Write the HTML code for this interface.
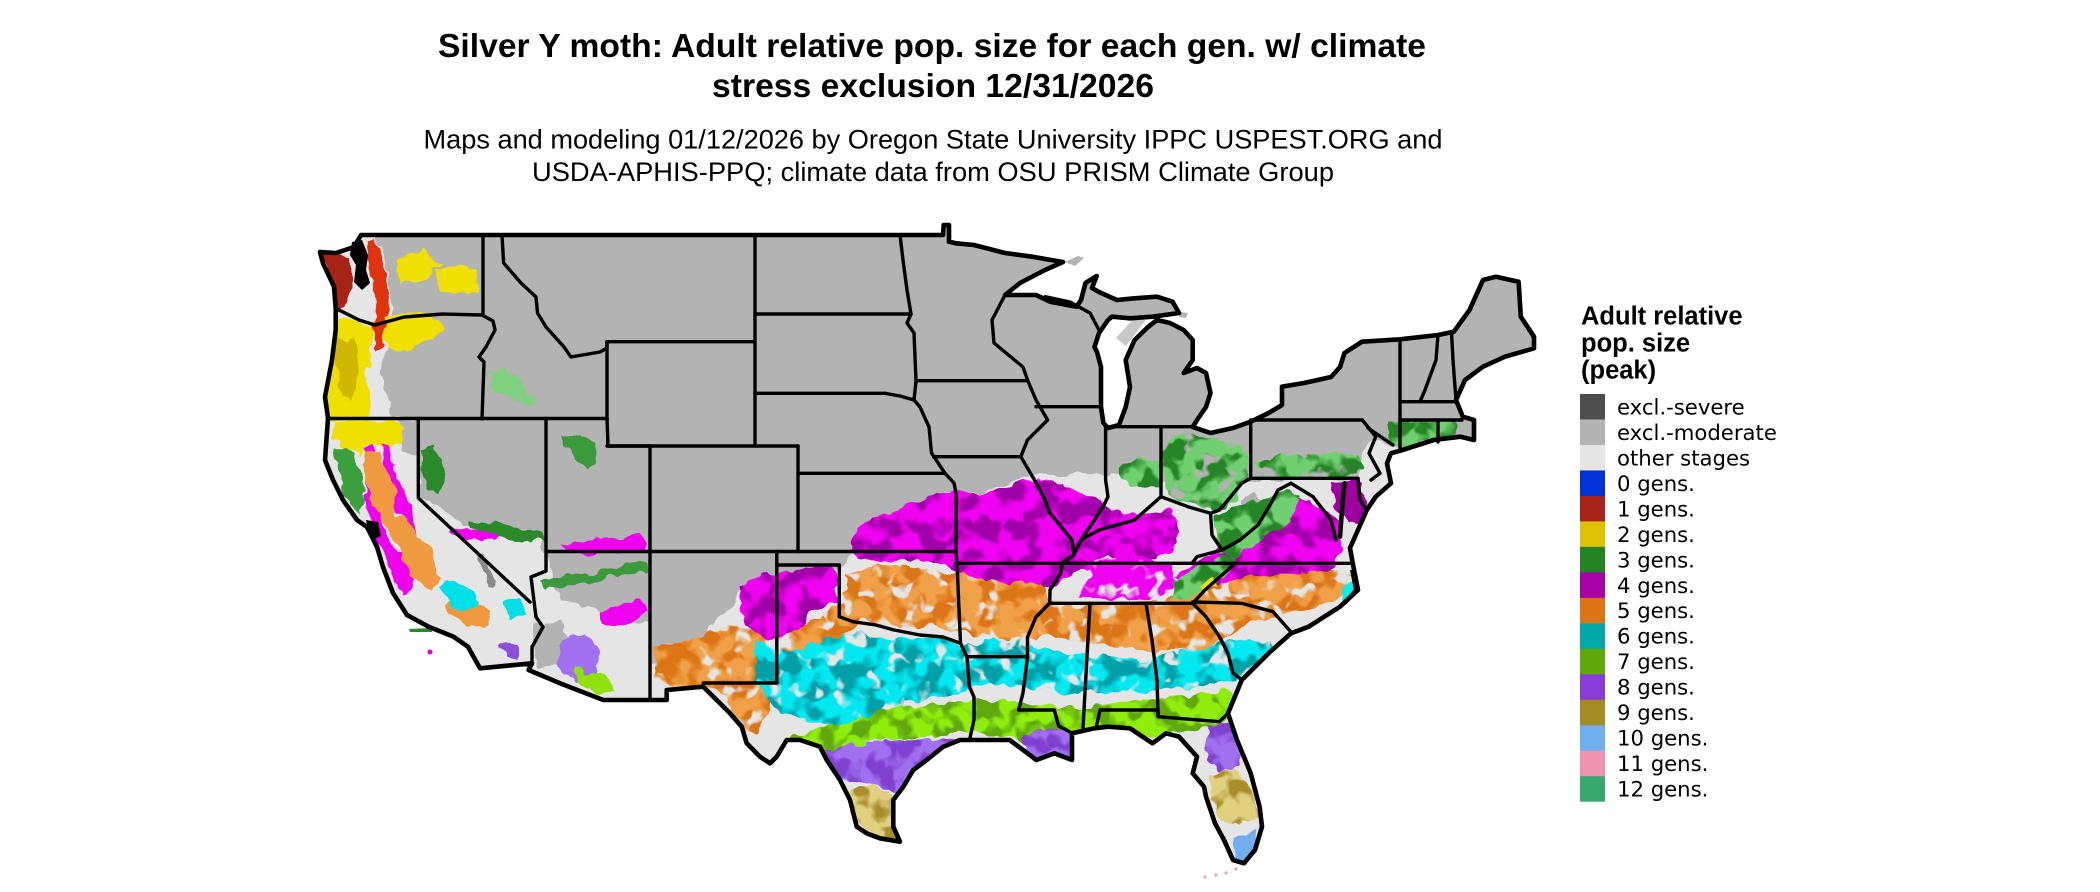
<!DOCTYPE html>
<html><head><meta charset="utf-8"><style>
html,body{margin:0;padding:0;background:#fff;}
svg{display:block;}
</style></head><body>
<svg width="2100" height="892" viewBox="0 0 2100 892" xmlns="http://www.w3.org/2000/svg">
<defs>
<filter id="rough" filterUnits="userSpaceOnUse" x="0" y="0" width="2100" height="892">
<feTurbulence type="fractalNoise" baseFrequency="0.07" numOctaves="2" seed="2" result="t"/>
<feDisplacementMap in="SourceGraphic" in2="t" scale="12" xChannelSelector="R" yChannelSelector="G"/>
</filter>
<filter id="blotA" filterUnits="userSpaceOnUse" x="0" y="0" width="2100" height="892">
<feTurbulence type="fractalNoise" baseFrequency="0.05" numOctaves="2" seed="5" result="n"/>
<feColorMatrix in="n" type="matrix" values="0 0 0 0 0 0 0 0 0 0 0 0 0 0 0 7 0 0 0 -3.2" result="m"/>
<feComposite in="SourceGraphic" in2="m" operator="in"/>
</filter>
<filter id="blotB" filterUnits="userSpaceOnUse" x="0" y="0" width="2100" height="892">
<feTurbulence type="fractalNoise" baseFrequency="0.06" numOctaves="2" seed="11" result="n"/>
<feColorMatrix in="n" type="matrix" values="0 0 0 0 0 0 0 0 0 0 0 0 0 0 0 8 0 0 0 -4.6" result="m"/>
<feComposite in="SourceGraphic" in2="m" operator="in"/>
</filter>
<path id="out" d="M320,252 L336,253 L354,247 L361,235 L943,235 L943.7,225 L949,225 L949,241.7 L956,243.3 L974,245 L1005,253 L1032,256.7 L1063,262 L1045,270 L1020,283 L1005,295 L1036,295 L1050,301.7 L1076.6,306.7 L1081,300 L1085.5,283 L1096.7,276 L1092,288 L1099,292 L1116.8,300 L1134.6,298.3 L1157,296.7 L1172.6,301.7 L1179,313 L1152.5,316.7 L1130,318.3 L1112,316.7 L1108,320 L1099,333 L1094.5,347 L1097,352 L1101,367 L1101,407 L1103.4,423 L1108,428 L1119,425 L1125.7,407 L1130,387 L1125.7,360 L1134.6,340 L1148,327 L1157,320 L1170,323 L1183.7,330 L1192.7,340 L1192.7,360 L1183.7,373 L1197,368 L1206,373 L1210.5,393 L1206,407 L1197,420 L1192.7,427 L1210.5,433 L1233,428 L1250.7,421.7 L1268.6,413 L1282,405 L1282,386.7 L1304,383 L1331,377 L1340,367 L1344.5,353 L1362,341.7 L1400,339.3 L1438,335 L1453.8,331.7 L1469.5,310 L1483,280 L1496,276.7 L1518.6,281.7 L1520.8,316.7 L1534,336.7 L1534,348.3 L1505,356.7 L1483,366.7 L1465,380 L1456,400 L1462.8,416.7 L1474,420 L1474,440 L1460.5,436.7 L1433.8,440 L1402.5,450 L1391,453.3 L1387,463.3 L1391,483.3 L1375.7,496.7 L1366.8,510 L1358,530 L1350,548 L1353.4,566.7 L1358,590 L1340,606.7 L1308.7,626.7 L1291,633.3 L1268.6,653.3 L1241.8,680 L1228,713.3 L1237,740 L1250.7,773.3 L1259.6,806.7 L1262,826.7 L1255,850 L1244,863.3 L1233,860 L1224,840 L1215,823.3 L1206,796.7 L1204,786.7 L1192.7,773.3 L1197,756.7 L1179,736.7 L1166,733.3 L1152.5,743.3 L1130,728.3 L1108,726.7 L1094.5,728.3 L1072,733.3 L1072,760 L1054.3,753.3 L1036.4,760 L1027.5,753.3 L1009.6,740 L960,740 L943.3,746.7 L926.7,760 L913.3,770 L903.3,786.7 L893.3,800 L893.3,826.7 L900,841.7 L880,838.3 L866.7,833.3 L856.7,826.7 L850,800 L840,780 L826.7,760 L820,746.7 L800,740 L786.7,740 L776.7,756.7 L770,763.3 L760,756.7 L746.7,743.3 L741.7,726.7 L730,713.3 L716.7,700 L703.3,686.7 L666.7,690 L666.7,700 L603.3,700 L560,683.3 L528.6,670 L532,663.3 L480,668.3 L467.9,646.7 L453.6,636.7 L428.6,626.7 L407,615 L393,593 L383,567 L377,547 L367,527 L357,520 L343,500 L333,480 L325,460 L328,418 L325,397 L332,360 L335.7,330 L335.7,308.3 L334,286.7 L323,263.3 Z"/>
<clipPath id="usclip"><use href="#out"/></clipPath>

<path id="mag1" d="M850,550 L858,528 L875,518 L900,508 L930,498 L955,490 L990,494 L1020,482 L1040,478 L1060,485 L1080,490 L1100,500 L1110,512 L1140,515 L1170,510 L1180,530 L1175,550 L1150,560 L1120,562 L1100,566 L1075,572 L1055,588 L1020,590 L990,585 L965,580 L950,566 L920,560 L890,562 L860,560 Z"/>
<path id="mag2" d="M1250,510 L1275,500 L1300,498 L1322,505 L1336,520 L1342,545 L1336,566 L1320,585 L1290,590 L1250,590 L1220,595 L1190,590 L1176,575 L1200,560 L1230,540 Z"/>
<path id="mag3" d="M1095,560 L1140,555 L1170,565 L1180,585 L1150,600 L1110,600 L1080,595 Z"/>
<path id="mag4" d="M738,588 L760,576 L790,570 L830,567 L839,575 L839,600 L812,610 L798,640 L770,646 L745,632 Z"/>
<path id="or1" d="M845,575 L880,565 L920,568 L960,575 L1000,582 L1040,582 L1052,600 L1080,606 L1120,604 L1160,600 L1200,586 L1240,580 L1280,575 L1320,570 L1348,575 L1342,596 L1312,612 L1280,613 L1250,622 L1222,640 L1200,652 L1170,652 L1140,650 L1110,646 L1080,642 L1050,636 L1020,640 L990,637 L960,633 L930,626 L900,628 L870,622 L845,616 Z"/>
<path id="or2" d="M655,648 L690,640 L720,628 L745,624 L770,640 L790,635 L815,620 L835,605 L860,598 L862,620 L840,640 L815,655 L790,668 L772,682 L768,718 L755,734 L740,728 L730,702 L716,690 L700,687 L668,690 L655,680 Z"/>
<path id="cy1" d="M755,640 L790,650 L820,641 L860,633 L900,640 L940,638 L965,646 L990,640 L1020,641 L1050,650 L1080,655 L1110,656 L1140,660 L1170,655 L1200,650 L1230,640 L1270,641 L1280,656 L1260,670 L1230,680 L1200,686 L1170,689 L1140,691 L1110,690 L1080,693 L1050,690 L1020,688 L990,683 L962,690 L940,696 L905,702 L885,738 L855,740 L832,726 L800,722 L772,706 L755,682 Z"/>
<path id="li1" d="M790,736 L830,726 L870,715 L900,706 L940,705 L975,700 L1010,700 L1040,705 L1080,708 L1110,705 L1140,700 L1170,698 L1200,695 L1230,690 L1240,700 L1233,716 L1215,726 L1190,731 L1160,736 L1130,736 L1100,734 L1070,736 L1040,741 L1010,739 L990,736 L960,733 L930,736 L900,739 L870,741 L840,749 L810,756 L790,753 Z"/>
<path id="pu1" d="M815,752 L840,746 L870,742 L900,740 L940,738 L962,742 L950,752 L930,764 L911,775 L896,792 L870,782 L840,780 L820,771 Z"/>
<path id="pu2" d="M1025,735 L1050,728 L1072,733 L1074,762 L1054,755 L1036,762 L1025,753 Z"/>
<path id="pu3" d="M1208,726 L1230,720 L1240,745 L1242,766 L1220,772 L1206,760 Z"/>
<path id="ol1" d="M849,790 L875,784 L893,795 L894,826 L899,842 L880,839 L862,826 L852,808 Z"/>
<path id="ol2" d="M1209,776 L1236,768 L1251,790 L1259,815 L1240,826 L1222,821 L1212,800 Z"/>
<path id="gr1" d="M1165,440 L1190,432 L1215,440 L1240,445 L1250,455 L1245,480 L1235,500 L1215,512 L1190,505 L1170,495 L1162,470 Z"/>
<path id="gr2" d="M1115,466 L1140,458 L1160,462 L1162,486 L1140,489 L1120,481 Z"/>
<path id="gr3" d="M1255,461 L1290,455 L1330,452 L1360,455 L1362,470 L1330,478 L1290,478 L1258,478 Z"/>
<path id="gr4" d="M1213,515 L1240,505 L1262,500 L1285,490 L1300,495 L1290,520 L1265,540 L1240,555 L1220,556 Z"/>
<path id="gr5" d="M1390,422 L1420,421 L1455,422 L1460,435 L1430,441 L1400,449 L1390,440 Z"/>
<path id="gr6" d="M1174,582 L1195,568 L1215,560 L1236,555 L1230,571 L1210,586 L1190,599 L1171,601 Z"/>
</defs>

<!-- Titles -->
<g font-family="'Liberation Sans', Arial, sans-serif" fill="#000">
<text x="932" y="57" font-size="33.5" font-weight="bold" text-anchor="middle" textLength="988" lengthAdjust="spacingAndGlyphs">Silver Y moth: Adult relative pop. size for each gen. w/ climate</text>
<text x="933" y="97" font-size="33.5" font-weight="bold" text-anchor="middle" textLength="442" lengthAdjust="spacingAndGlyphs">stress exclusion 12/31/2026</text>
<text x="933" y="148.5" font-size="27.2" text-anchor="middle" textLength="1019" lengthAdjust="spacingAndGlyphs">Maps and modeling 01/12/2026 by Oregon State University IPPC USPEST.ORG and</text>
<text x="933" y="181" font-size="27.2" text-anchor="middle" textLength="802" lengthAdjust="spacingAndGlyphs">USDA-APHIS-PPQ; climate data from OSU PRISM Climate Group</text>
</g>

<!-- Map base -->
<use href="#out" fill="#b3b3b3"/>
<g clip-path="url(#usclip)">
<g filter="url(#rough)">
<path fill="#e5e5e5" d="M300,230 L361,230 L375,236 L385,260 L390,295 L395,320 L388,345 L380,370 L385,395 L395,418 L418,418 L418,497 L440,505 L462,525 L490,532 L520,535 L540,540 L546,560 L560,600 L600,612 L630,618 L650,625 L650,720 L300,720 Z"/>
<path fill="#e5e5e5" d="M650,720 L650,662 L670,655 L695,648 L712,628 L730,605 L742,588 L760,580 L777,578 L800,572 L839,568 L848,558 L853,547 L871,520 L898,510 L929,500 L952,490 L987,493 L1018,480 L1036,473 L1054,477 L1081,473 L1108,477 L1130,470 L1152,468 L1161,478 L1200,485 L1230,484 L1250,480 L1300,479 L1358,478 L1366,450 L1371,440 L1395,445 L1420,470 L1420,900 L650,900 Z"/>
<path fill="#b3b3b3" d="M398,419 L418,419 L418,455 L405,452 L400,440 Z"/>
<path fill="#b3b3b3" d="M535,625 L560,620 L568,640 L562,665 L540,668 L533,645 Z"/>
<path fill="#b3b3b3" d="M1241,500 L1255,495 L1268,505 L1262,525 L1248,530 L1240,515 Z"/>
<path fill="#8a8a8a" d="M477,556 L484,555 L497,580 L494,588 L488,585 Z"/>
</g>

<g filter="url(#rough)">
<use href="#mag1" fill="#f000f0"/><use href="#mag1" fill="#a000a8" filter="url(#blotA)"/>
<use href="#mag2" fill="#f000f0"/><use href="#mag2" fill="#a000a8" filter="url(#blotA)"/>
<use href="#mag3" fill="#f000f0"/><use href="#mag3" fill="#e5e5e5" filter="url(#blotB)"/>
<use href="#mag4" fill="#f000f0"/><use href="#mag4" fill="#a000a8" filter="url(#blotA)"/>
<path fill="#a000a0" d="M1331,481 L1358,479 L1368,500 L1366,522 L1350,526 L1338,510 Z"/>
<use href="#or1" fill="#f0a048"/><use href="#or1" fill="#dc7414" filter="url(#blotA)"/><use href="#or1" fill="#e5e5e5" filter="url(#blotB)"/>
<use href="#or2" fill="#f0a048"/><use href="#or2" fill="#dc7414" filter="url(#blotA)"/><use href="#or2" fill="#e5e5e5" filter="url(#blotB)"/>
<use href="#cy1" fill="#00e8f0"/><use href="#cy1" fill="#00a0a8" filter="url(#blotA)"/><use href="#cy1" fill="#e5e5e5" filter="url(#blotB)"/>
<use href="#li1" fill="#90ee10"/><use href="#li1" fill="#5ea80c" filter="url(#blotA)"/>
<use href="#pu1" fill="#a070f0"/><use href="#pu1" fill="#8040d0" filter="url(#blotA)"/>
<use href="#pu2" fill="#a070f0"/><use href="#pu2" fill="#8040d0" filter="url(#blotA)"/>
<use href="#pu3" fill="#a070f0"/><use href="#pu3" fill="#8040d0" filter="url(#blotA)"/>
<use href="#ol1" fill="#e0d080"/><use href="#ol1" fill="#a88e28" filter="url(#blotA)"/>
<use href="#ol2" fill="#e0d080"/><use href="#ol2" fill="#a88e28" filter="url(#blotA)"/>
<path fill="#70aef0" d="M1234,836 L1256,828 L1260,850 L1246,862 L1236,856 Z"/>
<path fill="#00f0f0" d="M1343,584 L1358,585 L1356,598 L1342,601 Z"/>
<use href="#gr1" fill="#70d070"/><use href="#gr1" fill="#258525" filter="url(#blotA)"/><use href="#gr1" fill="#b3b3b3" filter="url(#blotB)"/>
<use href="#gr2" fill="#70d070"/><use href="#gr2" fill="#258525" filter="url(#blotA)"/>
<use href="#gr3" fill="#70d070"/><use href="#gr3" fill="#258525" filter="url(#blotA)"/><use href="#gr3" fill="#b3b3b3" filter="url(#blotB)"/>
<use href="#gr4" fill="#70d070"/><use href="#gr4" fill="#258525" filter="url(#blotA)"/>
<use href="#gr5" fill="#70d070"/><use href="#gr5" fill="#258525" filter="url(#blotA)"/>
<use href="#gr6" fill="#70d070"/><use href="#gr6" fill="#258525" filter="url(#blotA)"/>
<path fill="#f0e000" d="M1200,588 L1212,580 L1216,585 L1204,595 Z"/>
</g>

<g filter="url(#rough)">
<path fill="#a82315" d="M321,253 L336,253 L350,256 L352,285 L345,305 L336,308 L334,287 L323,263 Z"/>
<path fill="#e03010" d="M365,240 L375,238 L385,270 L390,300 L385,340 L378,352 L372,330 L376,300 L370,270 Z"/>
<path fill="#f0e000" d="M328,318 L345,320 L360,322 L372,328 L372,350 L366,380 L370,400 L368,419 L330,419 L326,397 L332,360 L336,330 Z"/>
<path fill="#d0b800" d="M336,340 L355,338 L360,370 L352,400 L340,395 Z"/>
<path fill="#f0e000" d="M436,268 L460,265 L478,272 L478,292 L455,295 L438,290 Z"/>
<path fill="#f0e000" d="M385,318 L410,312 L440,316 L445,330 L420,345 L395,350 L385,340 Z"/>
<path fill="#f0e000" d="M395,262 L420,250 L440,262 L425,280 L400,285 Z"/>
<path fill="#f0e000" d="M335,420 L395,420 L405,430 L400,445 L380,450 L368,445 L360,455 L345,445 L333,440 Z"/>
<path fill="#7fd07f" d="M488,372 L505,368 L520,385 L535,398 L528,405 L510,398 L495,390 Z"/>
<path fill="#3a9a3a" d="M563,437 L580,433 L592,440 L595,462 L588,468 L575,455 L565,448 Z"/>
<path fill="#2a8a2a" d="M420,450 L435,445 L445,470 L442,495 L428,490 L420,470 Z"/>
<path fill="#3aa03a" d="M335,450 L348,445 L360,470 L365,500 L360,515 L350,505 L340,480 Z"/>
<path fill="#f000f0" d="M365,448 L372,446 L378,470 L375,500 L385,530 L398,560 L410,590 L402,595 L390,565 L374,532 L365,500 Z"/>
<path fill="#f000f0" d="M380,445 L388,447 L400,480 L410,510 L420,540 L430,560 L422,563 L410,540 L398,510 L385,480 Z"/>
<path fill="#f000f0" d="M388,555 L405,552 L418,575 L410,590 L395,585 Z"/>
<path fill="#f000f0" d="M450,528 L480,530 L500,535 L495,541 L470,538 L450,534 Z"/>
<path fill="#f000f0" d="M560,545 L600,540 L640,535 L648,548 L620,552 L580,556 Z"/>
<path fill="#2a8a2a" d="M470,520 L540,532 L545,540 L520,542 L470,528 Z"/>
<path fill="#f09a40" d="M365,452 L378,455 L392,480 L398,515 L415,530 L432,550 L440,580 L430,590 L412,575 L398,550 L385,525 L370,500 L364,475 Z"/>
<path fill="#f09a40" d="M445,600 L470,598 L490,612 L488,628 L465,625 L448,615 Z"/>
<path fill="#00e0e8" d="M440,585 L460,582 L478,600 L470,612 L450,605 Z"/>
<path fill="#00e0e8" d="M505,600 L520,598 L525,615 L510,618 Z"/>
<path fill="#a070f0" d="M560,640 L585,635 L600,650 L595,675 L575,680 L560,668 Z"/>
<path fill="#8a50d8" d="M500,643 L518,645 L520,660 L505,660 Z"/>
<path fill="#90e010" d="M575,670 L605,675 L615,690 L600,695 L580,685 Z"/>
<path fill="#f000f0" d="M600,612 L640,600 L648,612 L620,625 L600,622 Z"/>
<path fill="#3a9a3a" d="M540,580 L600,570 L645,562 L648,570 L600,580 L545,590 Z"/>
</g>
</g>

<path fill="#b3b3b3" d="M1065,262 L1078,256 L1084,258 L1075,266 Z"/>
<path fill="#c8c8c8" d="M1116,338 L1134,318 L1146,320 L1126,346 Z"/>
<path fill="#b3b3b3" d="M1180,312 L1188,313 L1186,318 L1179,317 Z"/>
<g fill="#f4a0b8"><circle cx="1205" cy="877" r="1.6"/><circle cx="1216" cy="875" r="1.6"/><circle cx="1226" cy="873" r="1.6"/><circle cx="1236" cy="869" r="1.6"/></g>
<circle cx="430" cy="652" r="2.5" fill="#e000e0"/>
<path fill="#2a8a2a" d="M409,629 L432,628 L432,632 L410,632 Z"/>

<g fill="none" stroke="#000" stroke-width="3.4" stroke-linejoin="round" stroke-linecap="round">
<path d="M335.7,308.3 L359,320 L375,325 L404,317 L443,314 L482,315"/>
<path d="M483,235 L483,315"/>
<path d="M482,315 L493,321 L495,330 L486,347 L479,357 L484,362 L482,419"/>
<path d="M328,418.5 L607,418.5"/>
<path d="M418.3,418.5 L418.3,498 L530,602"/>
<path d="M546,418.5 L546,571 L531,577 L536,617 L543,627 L532,647 L532,663"/>
<path d="M546,551.5 L956,551.5"/>
<path d="M607,418.5 L608,446 L650,446"/>
<path d="M650,446 L650,700"/>
<path d="M502,235 L503.6,263 L521,283 L536,297 L537.5,313 L546,327 L564,347 L571,357 L600,352 L607,348 L607,341.7"/>
<path d="M607,341.7 L755,341.7"/>
<path d="M607,341.7 L607,420"/>
<path d="M607,446 L798,446"/>
<path d="M755,235 L755,446"/>
<path d="M755,314 L911,314"/>
<path d="M755,393.3 L885,393.3 L900,396 L914,400"/>
<path d="M798,446 L798,551.5"/>
<path d="M798,473.3 L945,473.3"/>
<path d="M900,235 L903,260 L907,290 L911,314 L907,323 L914,333 L916,381 L914,400"/>
<path d="M916,380.7 L1027,380.7"/>
<path d="M914,400 L920,407 L929,427 L931.5,453 L945,473.3"/>
<path d="M945,473.3 L954,483 L956,493 L956,551.5"/>
<path d="M933.7,456.7 L1020.8,456.7"/>
<path d="M1005,295 L992,320 L994,343 L1023,367 L1027.5,380 L1036,400 L1047.6,420 L1027.5,440 L1020.8,456.7 L1036.4,483.3 L1045,500 L1050,513 L1072,540 L1074,555 L1062,563 L1061,573 L1050,590 L1049.8,603 L1036,617 L1027.5,637 L1027.5,657 L1023,693 L1018.6,710 L1054.3,710 L1058.7,726 L1072,733"/>
<path d="M956,563.3 L1062,563.3"/>
<path d="M956,551.5 L957,563 L960.5,643.3"/>
<path d="M839.3,616.7 L853,621.7 L876,625 L894,630 L920,635 L943,637 L960.5,643.3 L967,657 L969.5,687 L974,697 L974,720 L969.5,740"/>
<path d="M776.8,551.5 L776.8,683 L703.3,683"/>
<path d="M776.8,565 L839.3,565 L839.3,616.7"/>
<path d="M967,656.7 L1027.5,656.7"/>
<path d="M1062,563.3 L1350,563.3"/>
<path d="M1049.8,603.3 L1192.7,603.3"/>
<path d="M1192.7,603.3 L1205,590 L1222,575 L1235,563.3"/>
<path d="M1090,603.3 L1083,728"/>
<path d="M1146,603.3 L1152,640 L1157,680 L1158,713"/>
<path d="M1096,728 L1100,710 L1158,710 L1158,716.7 L1219.5,721.7 L1228,713.3"/>
<path d="M1192.7,603.3 L1206,616.7 L1219.5,636.7 L1228,653.3 L1233,673 L1241.8,680"/>
<path d="M1192.7,602 L1241.8,603.3 L1273,611.7 L1291,632"/>
<path d="M1074,555 L1081,540 L1099,530 L1134.6,520 L1161,496.7 L1188,506.7 L1210.5,513.3 L1219.5,510 L1241.8,483.3 L1250.7,478.3"/>
<path d="M1105.6,426.7 L1105.6,480 L1108,496.7 L1103,506.7 L1094.5,520 L1081,540"/>
<path d="M1036,406.7 L1101,406.7"/>
<path d="M1105.6,426.7 L1192.7,426.7"/>
<path d="M1161,426.7 L1161,496.7"/>
<path d="M1250.7,421.7 L1250.7,478.3"/>
<path d="M1250.7,478.3 L1358,478.3"/>
<path d="M1210.5,513.3 L1212,535 L1222,550 L1240,540 L1258,525 L1270,505 L1278,490 L1291,483.3"/>
<path d="M1291,483.3 L1313,496.7 L1331,520 L1336,540"/>
<path d="M1222,550 L1197,556.7 L1192,563.3"/>
<path d="M1358,478.3 L1360,500 L1366.8,510"/>
<path d="M1344.5,483.3 L1342,510 L1340,536.7" stroke-width="4.5"/>
<path d="M1250.7,420 L1362.3,420"/>
<path d="M1362.3,420 L1375.7,436.7 L1369,453.3 L1380,473.3 L1371,480"/>
<path d="M1368,428 L1393,445"/>
<path d="M1400,339.3 L1400,450"/>
<path d="M1438,335 L1436,360 L1425,390 L1420,401.7"/>
<path d="M1451.6,334 L1453,360 L1456,400"/>
<path d="M1400,401.7 L1456,401.7"/>
<path d="M1400,420 L1462,420"/>
<path d="M1438,420 L1438,442"/>
<path d="M1045,296.7 L1070,302 L1090,313 L1099,330"/>
</g>
<path fill="#000" d="M352,242 L362,240 L368,255 L366,270 L370,283 L362,290 L354,282 L356,265 L350,255 Z"/>
<path fill="#000" d="M366,520 L378,522 L381,536 L372,540 L368,530 Z"/>
<path fill="none" stroke="#000" stroke-width="4" d="M1352,570 L1356,590 L1345,603"/>
<use href="#out" fill="none" stroke="#000" stroke-width="4.6" stroke-linejoin="round"/>

<!-- Legend -->
<g font-family="'Liberation Sans', Arial, sans-serif" font-weight="bold" font-size="25.5" fill="#000">
<text x="1581" y="324.5">Adult relative</text>
<text x="1581" y="351.5">pop. size</text>
<text x="1581" y="378.5">(peak)</text>
</g>
<g>
<rect x="1580" y="394.0" width="25" height="25.9" fill="#4d4d4d"/>
<rect x="1580" y="419.48" width="25" height="25.9" fill="#b3b3b3"/>
<rect x="1580" y="444.96" width="25" height="25.9" fill="#e5e5e5"/>
<rect x="1580" y="470.44" width="25" height="25.9" fill="#0233d8"/>
<rect x="1580" y="495.92" width="25" height="25.9" fill="#a8241a"/>
<rect x="1580" y="521.4" width="25" height="25.9" fill="#dcc200"/>
<rect x="1580" y="546.88" width="25" height="25.9" fill="#248424"/>
<rect x="1580" y="572.36" width="25" height="25.9" fill="#a600a6"/>
<rect x="1580" y="597.84" width="25" height="25.9" fill="#dc7414"/>
<rect x="1580" y="623.32" width="25" height="25.9" fill="#00a8a8"/>
<rect x="1580" y="648.8" width="25" height="25.9" fill="#60a80a"/>
<rect x="1580" y="674.28" width="25" height="25.9" fill="#8a3cd8"/>
<rect x="1580" y="699.76" width="25" height="25.9" fill="#a38c24"/>
<rect x="1580" y="725.24" width="25" height="25.9" fill="#70aef0"/>
<rect x="1580" y="750.72" width="25" height="25.9" fill="#f093b0"/>
<rect x="1580" y="776.2" width="25" height="25.5" fill="#38a86e"/>
</g>
<g font-family="'DejaVu Sans', sans-serif" font-size="21.2" fill="#000">
<text x="1617" y="414.4">excl.-severe</text>
<text x="1617" y="439.9">excl.-moderate</text>
<text x="1617" y="465.4">other stages</text>
<text x="1617" y="490.8">0 gens.</text>
<text x="1617" y="516.3">1 gens.</text>
<text x="1617" y="541.8">2 gens.</text>
<text x="1617" y="567.3">3 gens.</text>
<text x="1617" y="592.8">4 gens.</text>
<text x="1617" y="618.2">5 gens.</text>
<text x="1617" y="643.7">6 gens.</text>
<text x="1617" y="669.2">7 gens.</text>
<text x="1617" y="694.7">8 gens.</text>
<text x="1617" y="720.2">9 gens.</text>
<text x="1617" y="745.6">10 gens.</text>
<text x="1617" y="771.1">11 gens.</text>
<text x="1617" y="796.6">12 gens.</text>
</g>
</svg>
</body></html>
